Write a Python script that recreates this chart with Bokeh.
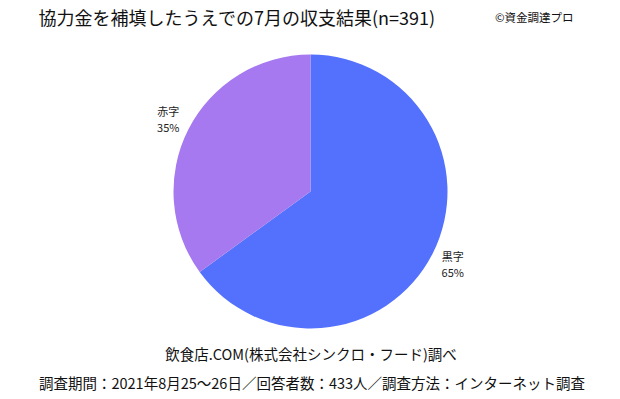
import math
from bokeh.plotting import figure
from bokeh.models import Range1d, ColumnDataSource
from bokeh.core.properties import value
from bokeh.embed import file_html
from bokeh.resources import INLINE

title = "協力金を補填したうえでの7月の収支結果(n=391)"
credit = "©資金調達プロ"
source_note = "飲食店.COM(株式会社シンクロ・フード)調べ"
survey_note = "調査期間：2021年8月25〜26日／回答者数：433人／調査方法：インターネット調査"

categories = ["黒字", "赤字"]
shares = [65, 35]
colors = ["#5471FE", "#A779F0"]

FONT = "Noto Sans CJK JP"
W, H = 620, 399
cx, cy, R = 310, H - 191, 137

start = math.pi / 2
starts, ends, mids = [], [], []
total = sum(shares)
a = start
for s in shares:
    da = 2 * math.pi * s / total
    starts.append(a)
    ends.append(a - da)
    mids.append(a - da / 2)
    a -= da

src = ColumnDataSource(dict(start=starts, end=ends, color=colors))

p = figure(width=W, height=H, output_backend="svg", toolbar_location=None,
           x_range=Range1d(0, W), y_range=Range1d(0, H), min_border=0)
p.axis.visible = False
p.grid.visible = False
p.outline_line_color = None

p.wedge(x=cx, y=cy, radius=R, start_angle="end", end_angle="start",
        fill_color="color", line_color=None, source=src)

lr = 1.165 * R
lx = [cx + lr * math.cos(m) for m in mids]
ly = [cy + lr * math.sin(m) for m in mids]
p.text(x=lx, y=[y + 8 for y in ly], text=categories, text_font=value(FONT),
       text_font_size="11px", text_align="center", text_baseline="middle", text_color="#222222")
p.text(x=lx, y=[y - 8 for y in ly], text=[f"{s}%" for s in shares], text_font=value(FONT),
       text_font_size="11px", text_align="center", text_baseline="middle", text_color="#222222")

p.text(x=[38], y=[H - 16], text=[title], text_font=value(FONT), text_font_size="18px",
       text_align="left", text_baseline="middle", text_color="#111111")
p.text(x=[573], y=[H - 16], text=[credit], text_font=value(FONT), text_font_size="11.5px",
       text_align="right", text_baseline="middle", text_color="#111111")
p.text(x=[310.5], y=[H - 353], text=[source_note], text_font=value(FONT), text_font_size="14.5px",
       text_align="center", text_baseline="middle", text_color="#111111")
p.text(x=[311.5], y=[H - 382], text=[survey_note], text_font=value(FONT), text_font_size="14.5px",
       text_align="center", text_baseline="middle", text_color="#111111")

open("out.html", "w").write(file_html(p, INLINE))
